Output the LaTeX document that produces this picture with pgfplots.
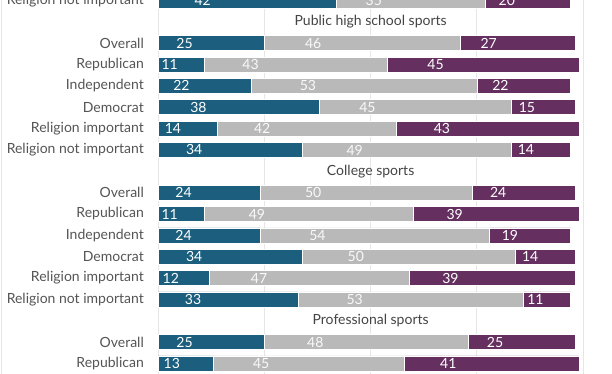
\documentclass[border=0pt]{standalone}
\usepackage{pgfplots}
\pgfplotsset{compat=1.18}
\usepackage{pgfplotstable}
\usepackage{fontspec}
\setmainfont{Lato}
\definecolor{cblue}{HTML}{1B5E7E}
\definecolor{cgray}{HTML}{B9B9B9}
\definecolor{cpurple}{HTML}{653060}
\definecolor{cgrid}{HTML}{E6E6E6}
\definecolor{ctext}{HTML}{555555}
\pgfplotstableread{
k b g p
0 42 35 20
2 25 46 27
3 11 43 45
4 22 53 22
5 38 45 15
6 14 42 43
7 34 49 14
9 24 50 24
10 11 49 39
11 24 54 19
12 34 50 14
13 12 47 39
14 33 53 11
16 25 48 25
17 13 45 41
}\data
\begin{document}
\begin{tikzpicture}[x=1pt,y=1pt]
\path[use as bounding box, clip] (0,0) rectangle (612,374);
\fill[white] (0,0) rectangle (612,374);
\draw[cgrid, line width=1.2pt] (1.2,-5) -- (1.2,380);
\draw[cgrid, line width=1.6pt] (583.5,-5) -- (583.5,380);
\begin{axis}[
  at={(158pt,394.85pt)}, anchor=north west,
  scale only axis, width=425.3pt, height=405.65pt,
  xbar stacked, bar width=15pt,
  xmin=0, xmax=100, ymin=-1, ymax=18, y dir=reverse,
  axis line style={draw=none},
  xmajorgrids, xtick={0,25,50,75}, xticklabels={},
  grid style={cgrid, line width=1pt},
  major tick length=0pt,
  ytick={0,2,3,4,5,6,7,9,10,11,12,13,14,16,17},
  yticklabels={Religion not important,Overall,Republican,{Independent\ },Democrat,Religion important,Religion not important,Overall,Republican,{Independent\ },Democrat,Religion important,Religion not important,Overall,Republican},
  yticklabel style={font=\fontsize{14}{16}\selectfont, text=ctext, anchor=east, inner sep=0pt, xshift=-14pt},
  /pgf/number format/assume math mode=true,
  point meta=rawx,
  visualization depends on={rawx \as \myx},
  nodes near coords,
  nodes near coords align={center},
  every node near coord/.append style={anchor=center, xshift={-1.06325*\myx pt}, font=\fontsize{14}{16}\selectfont, text=white},
  clip=false,
]
\addplot[fill=cblue, draw=white, line width=0.6pt] table[x=b, y=k]{\data};
\addplot[fill=cgray, draw=white, line width=0.6pt, every node near coord/.append style={text=white!95!gray}] table[x=g, y=k]{\data};
\addplot[fill=cpurple, draw=white, line width=0.6pt] table[x=p, y=k]{\data};
\node[font=\fontsize{14}{16}\selectfont, text=ctext!80!black] at (axis cs:50,1) {Public high school sports};
\node[font=\fontsize{14}{16}\selectfont, text=ctext!80!black] at (axis cs:50,8) {College sports};
\node[font=\fontsize{14}{16}\selectfont, text=ctext!80!black] at (axis cs:50,15) {Professional sports};
\end{axis}
\end{tikzpicture}
\end{document}
